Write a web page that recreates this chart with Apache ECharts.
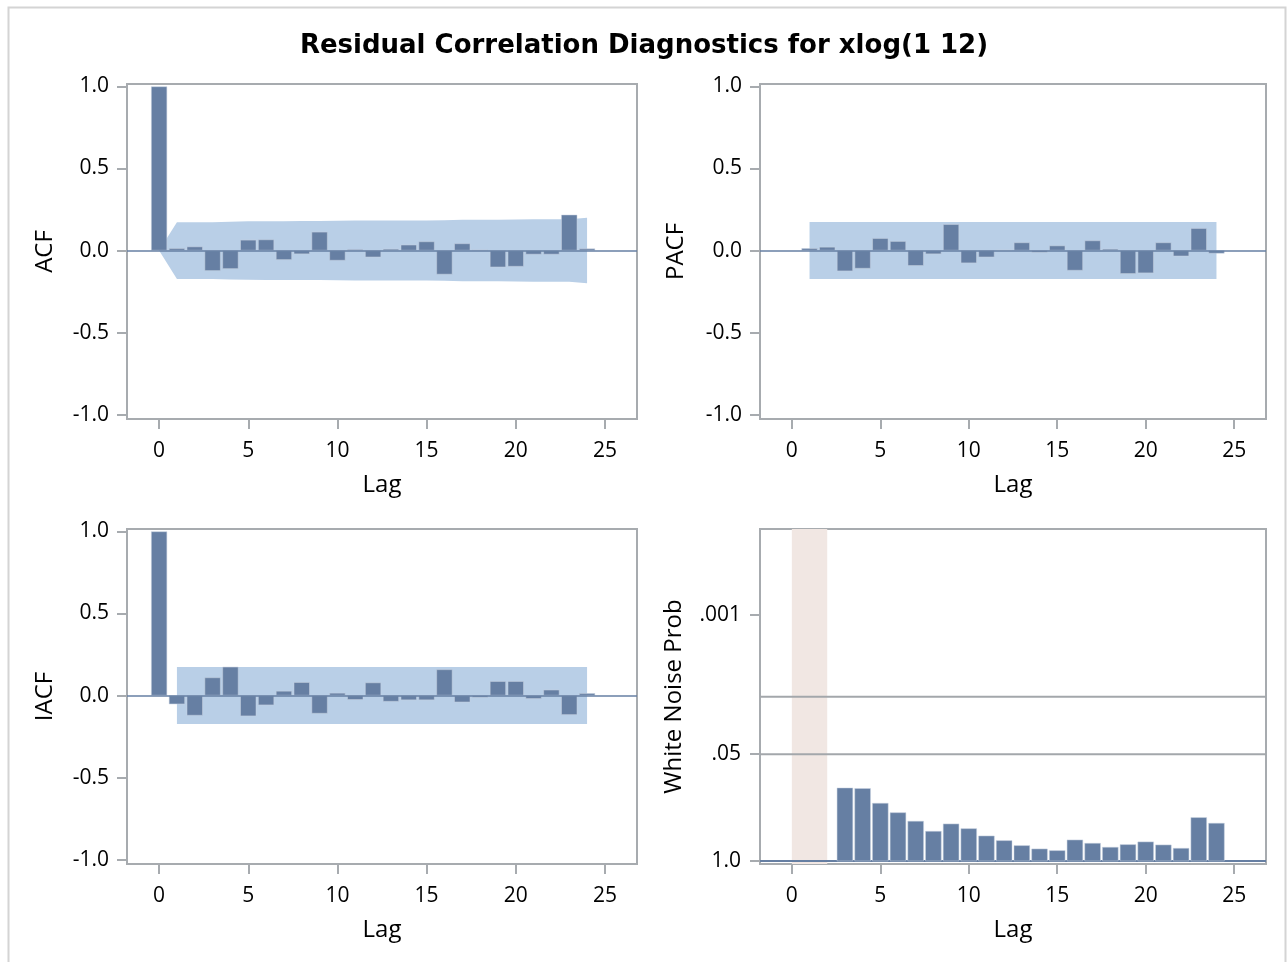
<!DOCTYPE html>
<html lang="en">
<head>
<meta charset="UTF-8" />
<title>Residual Correlation Diagnostics</title>
<script src="https://cdn.jsdelivr.net/npm/echarts@6/dist/echarts.min.js"></script>
<style>
    * { margin: 0; padding: 0; }
    #main { width: 1288px; height: 962px; }
</style>
</head>
<body>
<div id="main"></div>
<script>
    // lags 0..24
    const lags = [0, 1, 2, 3, 4, 5, 6, 7, 8, 9, 10, 11, 12, 13, 14, 15, 16, 17, 18, 19, 20, 21, 22, 23, 24];
    const acf = [1.0, 0.014, 0.024, -0.124, -0.112, 0.065, 0.067, -0.057, -0.022, 0.114, -0.061, 0.008, -0.041,
        0.010, 0.035, 0.055, -0.146, 0.043, 0.005, -0.102, -0.098, -0.024, -0.024, 0.218, 0.012];
    // 2 std err band for ACF (upper edge, lag 0..24)
    const acfBand = [0, 0.173, 0.173, 0.173, 0.176, 0.178, 0.179, 0.179, 0.180, 0.180, 0.182, 0.183, 0.183,
        0.183, 0.183, 0.183, 0.184, 0.187, 0.187, 0.187, 0.189, 0.191, 0.191, 0.191, 0.199];

    // lags 1..24
    const pacf = [0.014, 0.022, -0.126, -0.110, 0.075, 0.057, -0.093, -0.022, 0.160, -0.077, -0.041, 0.003,
        0.049, -0.012, 0.030, -0.122, 0.061, 0.010, -0.142, -0.138, 0.049, -0.035, 0.136, -0.018];
    const iacf = [1.0, -0.053, -0.122, 0.110, 0.175, -0.126, -0.059, 0.028, 0.081, -0.110, 0.016, -0.026, 0.079,
        -0.037, -0.028, -0.028, 0.159, -0.041, -0.012, 0.087, 0.087, -0.020, 0.035, -0.118, 0.014];
    const flatBand = [1, 24];   // lag range of the PACF / IACF band
    const flatBandValue = 0.174;

    // white noise test, lags 3..24
    const wnLags = [3, 4, 5, 6, 7, 8, 9, 10, 11, 12, 13, 14, 15, 16, 17, 18, 19, 20, 21, 22, 23, 24];
    const wnProb = [0.129, 0.131, 0.198, 0.258, 0.328, 0.435, 0.354, 0.404, 0.496, 0.565, 0.650, 0.714, 0.748,
        0.555, 0.609, 0.681, 0.632, 0.586, 0.638, 0.701, 0.296, 0.347];
    const wnShade = [0, 2];
    const wnRefLines = [0.01, 0.05];

    const xTicks = [0, 5, 10, 15, 20, 25];
    const corrTicks = [-1, -0.5, 0, 0.5, 1];
    const wnTicks = [0.001, 0.05, 1];

    const barColor = "#667fa3";
    const bandColor = "#b9cfe7";
    const frame = "#a7abaf";
    const font = "Open Sans";

    var myChart = echarts.init(document.getElementById("main"));

    const grids = [
        { left: 127, top: 84, width: 510, height: 335 },
        { left: 760, top: 84, width: 506, height: 335 },
        { left: 127, top: 529, width: 510, height: 335 },
        { left: 760, top: 529, width: 506, height: 335 },
    ].map((g) => Object.assign({ show: true, borderColor: frame, borderWidth: 2, backgroundColor: "transparent" }, g));

    function xAxisFor(i) {
        return {
            gridIndex: i, type: "value", min: -1.8, max: 26.8,
            name: "Lag", nameLocation: "middle", nameGap: 54,
            nameTextStyle: { fontSize: 24, color: "#000", fontFamily: font },
            axisLine: { show: true, onZero: false, lineStyle: { color: frame, width: 2 } },
            axisTick: { show: true, length: 10, customValues: xTicks, lineStyle: { color: frame, width: 2 } },
            axisLabel: { customValues: xTicks, fontSize: 21, color: "#000", fontFamily: font, margin: 22 },
            splitLine: { show: false },
        };
    }

    function corrYAxis(i, name, gap) {
        return {
            gridIndex: i, type: "value", min: -1.027, max: 1.015,
            name: name, nameLocation: "middle", nameGap: gap, nameRotate: 90,
            nameTextStyle: { fontSize: 24, color: "#000", fontFamily: font },
            axisLine: { show: true, onZero: false, lineStyle: { color: frame, width: 2 } },
            axisTick: { show: true, length: 10, customValues: corrTicks, lineStyle: { color: frame, width: 2 } },
            axisLabel: {
                customValues: corrTicks, fontSize: 21, color: "#000", fontFamily: font, margin: 18,
                formatter: (v) => Number(v).toFixed(1),
            },
            splitLine: { show: false },
        };
    }

    function barSeries(i, xs, ys) {
        return {
            type: "bar", xAxisIndex: i, yAxisIndex: i, barWidth: 16, z: 3,
            data: xs.map((x, k) => [x, ys[k]]),
            itemStyle: { color: barColor, borderColor: "#c9d3e1", borderWidth: 0.5 },
            markLine: {
                silent: true, symbol: "none", label: { show: false },
                lineStyle: { color: barColor, width: 1.5, type: "solid" },
                data: [{ yAxis: 0 }],
            },
        };
    }

    function acfBandSeries() {
        return {
            type: "custom", xAxisIndex: 0, yAxisIndex: 0, silent: true, z: 1,
            data: [[0, 0]],
            renderItem: function (params, api) {
                let pts = [];
                lags.forEach((l, k) => pts.push(api.coord([l, acfBand[k]])));
                for (let k = lags.length - 1; k >= 0; k--) pts.push(api.coord([lags[k], -acfBand[k]]));
                return { type: "polygon", shape: { points: pts }, style: { fill: bandColor } };
            },
        };
    }

    function flatBandSeries(i) {
        return {
            type: "custom", xAxisIndex: i, yAxisIndex: i, silent: true, z: 1,
            data: [[flatBand[0], flatBandValue]],
            renderItem: function (params, api) {
                const a = api.coord([flatBand[0], flatBandValue]);
                const b = api.coord([flatBand[1], -flatBandValue]);
                return { type: "rect", shape: { x: a[0], y: a[1], width: b[0] - a[0], height: b[1] - a[1] }, style: { fill: bandColor } };
            },
        };
    }

    const option = {
        animation: false,
        backgroundColor: "#fff",
        title: {
            text: "Residual Correlation Diagnostics for xlog(1 12)",
            left: "center", top: 28,
            textStyle: { fontSize: 26, fontWeight: "bold", color: "#000", fontFamily: "DejaVu Sans" },
        },
        graphic: [{
            type: "rect", shape: { x: 8.5, y: 7.5, width: 1277, height: 980 },
            style: { fill: "none", stroke: "#d4d4d4", lineWidth: 2 }, silent: true,
        }],
        grid: grids,
        xAxis: [xAxisFor(0), xAxisFor(1), xAxisFor(2), xAxisFor(3)],
        yAxis: [
            corrYAxis(0, "ACF", 70),
            corrYAxis(1, "PACF", 72),
            corrYAxis(2, "IACF", 70),
            {
                gridIndex: 3, type: "log", min: 9e-5, max: 1.09, inverse: true,
                name: "White Noise Prob", nameLocation: "middle", nameGap: 74, nameRotate: 90,
                nameTextStyle: { fontSize: 24, color: "#000", fontFamily: font },
                axisLine: { show: true, onZero: false, lineStyle: { color: frame, width: 2 } },
                axisTick: { show: true, length: 10, customValues: wnTicks, lineStyle: { color: frame, width: 2 } },
                axisLabel: {
                    customValues: wnTicks, fontSize: 21, color: "#000", fontFamily: font, margin: 19,
                    formatter: (v) => (v < 0.005 ? ".001" : v < 0.5 ? ".05" : "1.0"),
                },
                splitLine: { show: false },
            },
        ],
        series: [
            acfBandSeries(),
            barSeries(0, lags, acf),
            flatBandSeries(1),
            barSeries(1, lags.slice(1), pacf),
            flatBandSeries(2),
            barSeries(2, lags, iacf),
            {
                // shaded lags + reference lines
                type: "custom", xAxisIndex: 3, yAxisIndex: 3, silent: true, z: 1,
                data: [[wnShade[0], 1]],
                renderItem: function (params, api) {
                    const cs = params.coordSys;
                    const a = api.coord([wnShade[0], 1]);
                    const b = api.coord([wnShade[1], 1]);
                    const children = [{
                        type: "rect", shape: { x: a[0], y: cs.y, width: b[0] - a[0], height: cs.height },
                        style: { fill: "#f1e7e3" },
                    }];
                    wnRefLines.forEach((v) => {
                        const y = api.coord([0, v])[1];
                        children.push({
                            type: "line", shape: { x1: cs.x, y1: y, x2: cs.x + cs.width, y2: y },
                            style: { stroke: "#a3a7ab", lineWidth: 2 },
                        });
                    });
                    const y1 = api.coord([0, 1])[1];
                    children.push({
                        type: "line", shape: { x1: cs.x, y1: y1, x2: cs.x + cs.width, y2: y1 },
                        style: { stroke: barColor, lineWidth: 2 },
                    });
                    return { type: "group", children: children };
                },
            },
            {
                type: "custom", xAxisIndex: 3, yAxisIndex: 3, z: 3,
                data: wnLags.map((l, k) => [l, wnProb[k]]),
                renderItem: function (params, api) {
                    const a = api.coord([api.value(0) - 0.445, 1]);
                    const b = api.coord([api.value(0) + 0.445, api.value(1)]);
                    return {
                        type: "rect",
                        shape: { x: a[0], y: Math.min(a[1], b[1]), width: b[0] - a[0], height: Math.abs(b[1] - a[1]) },
                        style: { fill: barColor, stroke: "#c9d3e1", lineWidth: 0.5 },
                    };
                },
            },
        ],
    };
    myChart.setOption(option);
</script>
</body>
</html>
